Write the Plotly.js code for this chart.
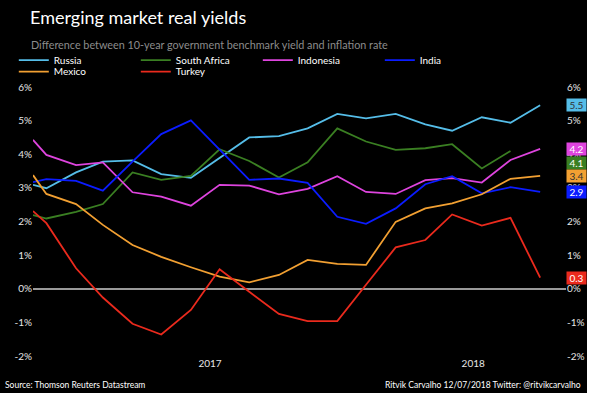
<!DOCTYPE html>
<html>
<head>
<meta charset="utf-8">
<script src="https://cdn.plot.ly/plotly-3.0.1.min.js"></script>
<style>
  html, body { margin: 0; padding: 0; background: #ffffff; }
  #chart { width: 587px; height: 393px; background: #000; }
</style>
</head>
<body>
<div id="chart"></div>
<script>
// ---- data ----
const dates = ['2017-01-01','2017-01-15','2017-02-15','2017-03-15','2017-04-15','2017-05-15','2017-06-15',
  '2017-07-15','2017-08-15','2017-09-15','2017-10-15','2017-11-15','2017-12-15',
  '2018-01-15','2018-02-15','2018-03-15','2018-04-15','2018-05-15','2018-06-15'];
const russia      = [3.09, 2.99, 3.46, 3.78, 3.82, 3.41, 3.30, 3.88, 4.50, 4.54, 4.77, 5.20, 5.07, 5.20, 4.89, 4.70, 5.10, 4.94, 5.46];
const southAfrica = [2.19, 2.09, 2.29, 2.52, 3.46, 3.24, 3.36, 4.15, 3.80, 3.31, 3.76, 4.77, 4.38, 4.13, 4.18, 4.30, 3.58, 4.10, null];
const indonesia   = [4.43, 3.98, 3.68, 3.76, 2.87, 2.74, 2.47, 3.09, 3.07, 2.81, 2.97, 3.35, 2.88, 2.82, 3.23, 3.29, 3.16, 3.83, 4.16];
const india       = [3.17, 3.26, 3.21, 2.92, 3.78, 4.60, 5.01, 4.15, 3.24, 3.28, 3.15, 2.14, 1.93, 2.39, 3.11, 3.35, 2.84, 3.02, 2.88];
const mexico      = [3.38, 2.82, 2.52, 1.90, 1.30, 0.95, 0.64, 0.36, 0.19, 0.41, 0.86, 0.74, 0.71, 1.99, 2.39, 2.54, 2.81, 3.27, 3.36];
const turkey      = [2.31, 1.95, 0.61, -0.26, -1.04, -1.36, -0.63, 0.58, -0.09, -0.75, -0.96, -0.96, 0.12, 1.23, 1.45, 2.21, 1.88, 2.11, 0.33];

const seriesNames = ['Russia', 'South Africa', 'Indonesia', 'India', 'Mexico', 'Turkey'];
const yTickVals  = [-2, -1, 0, 1, 2, 3, 4, 5, 6];
const yTickText  = ['-2%', '-1%', '0%', '1%', '2%', '3%', '4%', '5%', '6%'];
const xTickVals  = ['2017-07-05', '2018-04-06'];
const xTickText  = ['2017', '2018'];

// ---- styles ----
const colors = {
  'Russia': '#55bde8', 'South Africa': '#3a7f22', 'Indonesia': '#de44de',
  'India': '#0b1cff', 'Mexico': '#f2a032', 'Turkey': '#ea2a1d'
};
const labelText = {
  'Russia': '#333333', 'South Africa': '#ffffff', 'Indonesia': '#ffffff',
  'India': '#ffffff', 'Mexico': '#333333', 'Turkey': '#ffffff'
};
const labelShift = { 'South Africa': -12 };
const legendOf = { 'Russia': 'legend', 'South Africa': 'legend', 'Indonesia': 'legend', 'India': 'legend',
  'Mexico': 'legend2', 'Turkey': 'legend2' };
const values = { 'Russia': russia, 'South Africa': southAfrica, 'Indonesia': indonesia,
  'India': india, 'Mexico': mexico, 'Turkey': turkey };

const FONT = 'Lato, "DejaVu Sans", sans-serif';

const traces = seriesNames.map(name => ({
  type: 'scatter', mode: 'lines', name: name,
  x: dates, y: values[name],
  yaxis: name === 'Turkey' ? 'y2' : 'y',
  line: { color: colors[name], width: 1.8 },
  legend: legendOf[name],
  hoverinfo: 'skip'
}));

// end-value labels
const annotations = seriesNames.map(name => {
  const arr = values[name];
  let last = null;
  for (let i = arr.length - 1; i >= 0; i--) { if (arr[i] !== null) { last = arr[i]; break; } }
  return {
    xref: 'paper', x: 1, xanchor: 'left', yref: 'y', y: last, yanchor: 'middle',
    yshift: labelShift[name] || 0,
    text: last.toFixed(1), showarrow: false,
    bgcolor: colors[name], borderpad: 1, width: 17, height: 10,
    font: { family: FONT, size: 10, color: labelText[name] }
  };
});

annotations.push({
  xref: 'paper', yref: 'paper', x: 0, xshift: -30, y: -0.106, xanchor: 'left', yanchor: 'middle',
  text: 'Source: Thomson Reuters Datastream', showarrow: false,
  font: { family: FONT, size: 8.5, color: '#ffffff' }
});
annotations.push({
  xref: 'paper', yref: 'paper', x: 1, xshift: 17, y: -0.106, xanchor: 'right', yanchor: 'middle',
  text: 'Ritvik Carvalho 12/07/2018 Twitter: @ritvikcarvalho', showarrow: false,
  font: { family: FONT, size: 8.5, color: '#ffffff' }
});
annotations.push({
  xref: 'paper', yref: 'paper', x: 0, xshift: -4, y: 1.138, xanchor: 'left', yanchor: 'middle',
  text: 'Difference between 10-year government benchmark yield and inflation rate', showarrow: false,
  font: { family: FONT, size: 10.8, color: '#8c8c8c' }
});

const yCommon = {
  range: [-2, 6.15], tickvals: yTickVals, ticktext: yTickText,
  showgrid: false, showline: false, ticks: '',
  tickfont: { family: FONT, size: 10, color: '#e6e6e6' },
  fixedrange: true
};

const legendCommon = {
  orientation: 'h', xanchor: 'left', yanchor: 'middle',
  entrywidth: 77, entrywidthmode: 'pixels',
  bgcolor: 'rgba(0,0,0,0)', borderwidth: 0,
  font: { family: FONT, size: 10, color: '#ffffff' },
  itemclick: false, itemdoubleclick: false
};

const layout = {
  width: 587, height: 393,
  paper_bgcolor: '#000000', plot_bgcolor: '#000000',
  margin: { l: 33, r: 21, t: 82, b: 37, autoexpand: false },
  title: {
    text: 'Emerging market real yields',
    font: { family: FONT, size: 18, color: '#ffffff' },
    x: 30 / 587, xanchor: 'left', xref: 'container',
    y: 1 - 18 / 393, yanchor: 'middle', yref: 'container'
  },
  showlegend: true,
  legend: Object.assign({}, legendCommon, { x: -0.036, y: 1.08 }),
  legend2: Object.assign({}, legendCommon, { x: -0.036, y: 1.038 }),
  xaxis: {
    type: 'date', range: ['2017-01-01', '2018-07-12'],
    tickvals: xTickVals, ticktext: xTickText,
    showgrid: false, showline: false, zeroline: false, ticks: '',
    tickfont: { family: FONT, size: 10, color: '#e6e6e6' },
    fixedrange: true
  },
  yaxis: Object.assign({}, yCommon, {
    side: 'left', zeroline: true, zerolinecolor: '#9a9a9a', zerolinewidth: 1.5
  }),
  yaxis2: Object.assign({}, yCommon, {
    side: 'right', overlaying: 'y', zeroline: false
  }),
  annotations: annotations
};

Plotly.newPlot('chart', traces, layout, { displayModeBar: false, staticPlot: true });
</script>
</body>
</html>
